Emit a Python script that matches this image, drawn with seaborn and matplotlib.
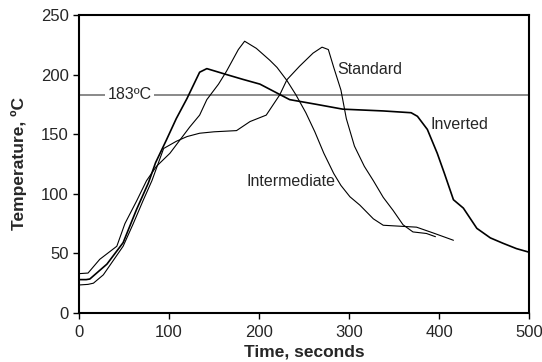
import numpy as np
import pandas as pd
import matplotlib
matplotlib.use("Agg")
import matplotlib.pyplot as plt
import seaborn as sns

# reflow profiles
inverted_t = [0, 8, 12, 31, 49, 64, 77, 85, 97, 108, 120, 134, 142, 164, 182, 201, 220, 234,
              264, 293, 338, 369, 376, 387, 398, 406, 416, 427, 442, 457, 471, 486, 500]
inverted_T = [28, 28, 28.5, 41, 59, 87, 109, 126, 145, 163, 180, 202, 205, 200, 196, 192, 184.5, 179,
              175, 171, 169.5, 168, 165, 154, 134, 117, 95, 88, 71, 63, 58.5, 54, 51]

intermediate_t = [0, 10, 23, 42, 51, 64, 75, 86, 101, 112, 123, 134, 142, 155, 164, 177, 184,
                  197, 212, 220, 231, 241, 252, 262, 272, 283, 291, 301, 312, 327, 338, 375,
                  394, 416]
intermediate_T = [33, 33.5, 45, 56, 75, 94, 111, 123, 134, 145, 156, 166, 179, 192, 203, 221, 228,
                  222, 212, 206, 195, 183, 168, 152, 134, 117, 107, 97.5, 90.5, 79, 73.6, 72,
                  67, 61]

standard_t = [0, 10, 16, 27, 49, 60, 71, 81, 94, 108, 120, 134, 150, 175, 190, 208, 223, 231,
              245, 260, 270, 277, 283, 291, 297, 306, 317, 327, 338, 349, 360, 371, 386, 396]
standard_T = [23.5, 24, 25, 32, 56, 74.5, 94, 111, 138, 144, 148, 150.8, 152, 153, 160.6, 166,
              183, 195.7, 207, 218, 223, 221, 206, 187, 163, 140, 123, 111, 97, 86, 74, 68,
              66.7, 64]

solder_line = 183
xticks = [0, 100, 200, 300, 400, 500]
yticks = [0, 50, 100, 150, 200, 250]

sns.set_style("ticks")
plt.rcParams["font.family"] = ["Liberation Sans", "DejaVu Sans"]

fig = plt.figure(figsize=(5.42, 3.62), dpi=100)
ax = fig.add_axes([0.1458, 0.1354, 0.8303, 0.8232])

ax.axhline(solder_line, color="#808080", lw=1.3, zorder=1)

sns.lineplot(x=inverted_t, y=inverted_T, ax=ax, color="black", lw=1.2, zorder=3)
sns.lineplot(x=intermediate_t, y=intermediate_T, ax=ax, color="black", lw=0.8, zorder=3)
sns.lineplot(x=standard_t, y=standard_T, ax=ax, color="black", lw=0.8, zorder=3)

ax.text(56, solder_line, "183ºC", ha="center", va="center", fontsize=11.5,
        bbox=dict(facecolor="white", edgecolor="none", pad=1.5), zorder=2)
ax.text(287, 204, "Standard", ha="left", va="center", fontsize=11.5)
ax.text(391, 158, "Inverted", ha="left", va="center", fontsize=11.5)
ax.text(186, 110, "Intermediate", ha="left", va="center", fontsize=11.5)

ax.set_xlim(0, 500)
ax.set_ylim(0, 250)
ax.set_xticks(xticks)
ax.set_yticks(yticks)
ax.tick_params(labelsize=12, length=4, width=1, color="black")
ax.tick_params(axis="x", pad=5)
ax.set_xlabel("Time, seconds", fontsize=12.5, fontweight="bold", labelpad=3)
ax.set_ylabel("Temperature, ºC", fontsize=12.5, fontweight="bold", labelpad=10)

for s in ax.spines.values():
    s.set_visible(True)
    s.set_color("black")
    s.set_linewidth(1.5)

fig.savefig("out.png", dpi=100)
